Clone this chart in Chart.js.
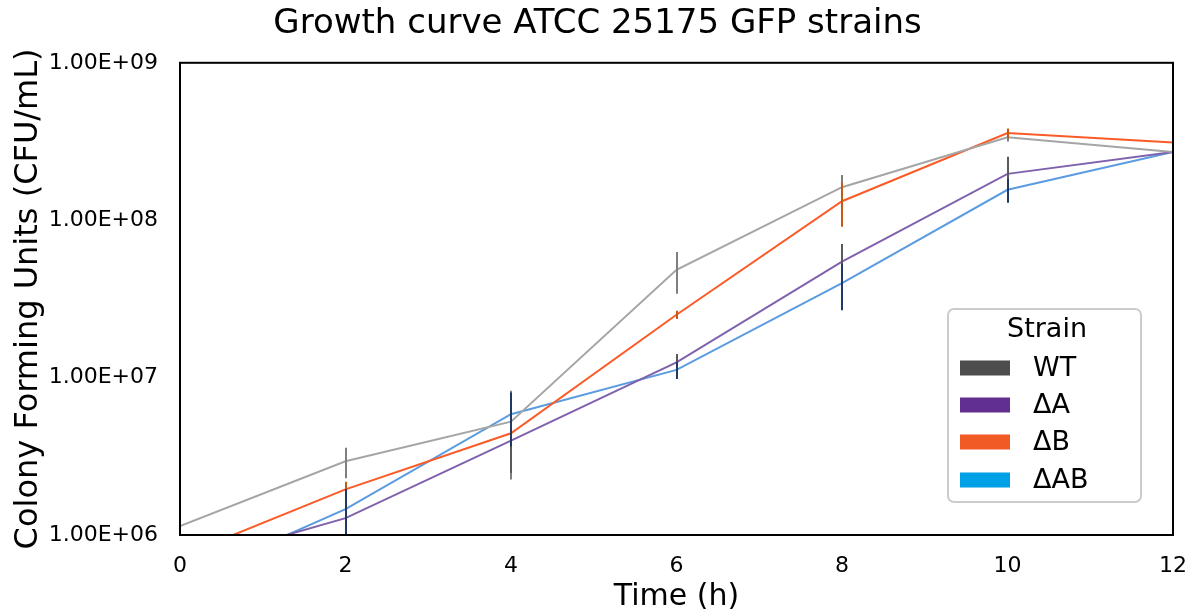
<!DOCTYPE html>
<html>
<head>
<meta charset="utf-8">
<script src="https://cdn.jsdelivr.net/npm/chart.js@4.4.1/dist/chart.umd.min.js"></script>
<style>
html,body{margin:0;padding:0;background:#fff;}
#wrap{width:1195px;height:615px;position:relative;}
</style>
</head>
<body>
<div id="wrap"><canvas id="c" width="1195" height="615"></canvas></div>
<script>
const chartTitle = 'Growth curve ATCC 25175 GFP strains';
const xTitle = 'Time (h)';
const yTitle = 'Colony Forming Units (CFU/mL)';
const legendTitle = 'Strain';

const times = [0, 2, 4, 6, 8, 10, 12];
const yTickValues = [1e6, 1e7, 1e8, 1e9];
const yTickLabels = ['1.00E+06', '1.00E+07', '1.00E+08', '1.00E+09'];

const seriesNames = ['WT', '\u0394A', '\u0394B', '\u0394AB'];
const wt  = [1.14e6, 2.94e6, 5.25e6, 4.84e7, 1.62e8, 3.36e8, 2.71e8];
const dA  = [6.4e5, 1.28e6, 3.98e6, 1.25e7, 5.46e7, 1.97e8, 2.71e8];
const dB  = [7.3e5, 1.95e6, 4.43e6, 2.51e7, 1.32e8, 3.58e8, 3.12e8];
const dAB = [5.0e5, 1.46e6, 5.85e6, 1.12e7, 3.98e7, 1.56e8, 2.71e8];

const wtErr  = [0, 0.65e6, 3.0e6, 1.43e7, 3.2e7, 2.0e7, 0];
const dAErr  = [0, 0.4e6, 1.5e6, 1.6e6, 1.6e7, 5.6e7, 0];
const dBErr  = [0, 0.23e6, 0.5e6, 1.5e6, 4.1e7, 2.5e7, 0];
const dABErr = [0, 0.5e6, 2.2e6, 1.4e6, 1.3e7, 2.7e7, 0];

const lineColors = ['#a5a5a5', '#7f62ad', '#fa5b27', '#5b9be0'];
const errColors = ['#7f7f7f', '#5a5a5a', '#c55a11', '#203864'];
const legendColors = ['#4d4d4d', '#612f90', '#f25a25', '#00a0e6'];

const values = [wt, dA, dB, dAB];
const errors = [wtErr, dAErr, dBErr, dABErr];

const FONT = 'DejaVu Sans';

const datasets = seriesNames.map((n, i) => ({
  label: n,
  data: times.map((t, j) => ({x: t, y: values[i][j]})),
  borderColor: lineColors[i],
  backgroundColor: lineColors[i],
  borderWidth: 2,
  pointRadius: 0,
  tension: 0,
  fill: false,
  errs: errors[i],
  errColor: errColors[i]
}));

const errorBars = {
  id: 'errorBars',
  afterDatasetsDraw(chart) {
    const ctx = chart.ctx, a = chart.chartArea;
    const xs = chart.scales.x, ys = chart.scales.y;
    ctx.save();
    ctx.beginPath();
    ctx.rect(a.left, a.top, a.right - a.left, a.bottom - a.top);
    ctx.clip();
    chart.data.datasets.forEach(ds => {
      ctx.strokeStyle = ds.errColor;
      ctx.lineWidth = 2;
      ds.data.forEach((p, j) => {
        const e = ds.errs[j];
        if (!e) return;
        const px = Math.round(xs.getPixelForValue(p.x));
        const lo = Math.max(p.y - e, 1);
        const y1 = ys.getPixelForValue(p.y + e);
        const y2 = ys.getPixelForValue(lo);
        ctx.beginPath();
        ctx.moveTo(px, y1);
        ctx.lineTo(px, y2);
        ctx.stroke();
      });
    });
    ctx.restore();
  },
  afterDraw(chart) {
    const ctx = chart.ctx, a = chart.chartArea;
    ctx.save();
    ctx.strokeStyle = '#000';
    ctx.lineWidth = 2;
    ctx.strokeRect(a.left, a.top, a.right - a.left, a.bottom - a.top);
    const bx = 948, by = 309, bw = 193, bh = 193, r = 6;
    ctx.beginPath();
    ctx.moveTo(bx + r, by);
    ctx.arcTo(bx + bw, by, bx + bw, by + bh, r);
    ctx.arcTo(bx + bw, by + bh, bx, by + bh, r);
    ctx.arcTo(bx, by + bh, bx, by, r);
    ctx.arcTo(bx, by, bx + bw, by, r);
    ctx.closePath();
    ctx.fillStyle = '#fff';
    ctx.fill();
    ctx.strokeStyle = '#cccccc';
    ctx.lineWidth = 2;
    ctx.stroke();
    ctx.fillStyle = '#000';
    ctx.font = '27px "' + FONT + '"';
    ctx.textAlign = 'center';
    ctx.textBaseline = 'middle';
    ctx.fillText(legendTitle, 1047, 330);
    const rows = [368, 405, 442, 480];
    ctx.textAlign = 'left';
    seriesNames.forEach((n, i) => {
      ctx.fillStyle = legendColors[i];
      ctx.fillRect(960, rows[i] - 7.5, 50, 15);
      ctx.fillStyle = '#000';
      ctx.fillText(n, 1033, rows[i] + 1);
    });
    ctx.restore();
  }
};

new Chart(document.getElementById('c'), {
  type: 'line',
  data: { datasets },
  options: {
    responsive: false,
    animation: false,
    layout: { padding: { left: 0, right: 0, top: 0, bottom: 0 } },
    plugins: {
      legend: { display: false },
      tooltip: { enabled: false },
      title: {
        display: true,
        text: chartTitle,
        color: '#000',
        font: { family: FONT, size: 34, weight: 'normal', lineHeight: 1.2 },
        padding: { top: 4, bottom: 18 }
      }
    },
    scales: {
      x: {
        type: 'linear',
        min: 0, max: 12,
        grid: { display: false, drawTicks: false },
        border: { display: false },
        ticks: { stepSize: 2, color: '#000', padding: 18, font: { family: FONT, size: 22 } },
        title: { display: true, text: xTitle, color: '#000', padding: { top: 0, bottom: 0 },
                 font: { family: FONT, size: 30, lineHeight: 1.2 } },
        afterFit(s) { s.height = 80; s.paddingRight = 22; s.paddingLeft = 0; }
      },
      y: {
        type: 'logarithmic',
        min: 1e6, max: 1e9,
        grid: { display: false, drawTicks: false },
        border: { display: false },
        afterBuildTicks(s) { s.ticks = yTickValues.map(v => ({ value: v })); },
        ticks: {
          color: '#000', padding: 22,
          font: { family: FONT, size: 22 },
          callback(v) { const k = yTickValues.indexOf(v); return k >= 0 ? yTickLabels[k] : ''; }
        },
        title: { display: true, text: yTitle, color: '#000', padding: { top: 9, bottom: 0 },
                 font: { family: FONT, size: 32, lineHeight: 1.2 } },
        afterFit(s) { s.width = 180; s.paddingTop = 0; s.paddingBottom = 0; }
      }
    }
  },
  plugins: [errorBars]
});
</script>
</body>
</html>
